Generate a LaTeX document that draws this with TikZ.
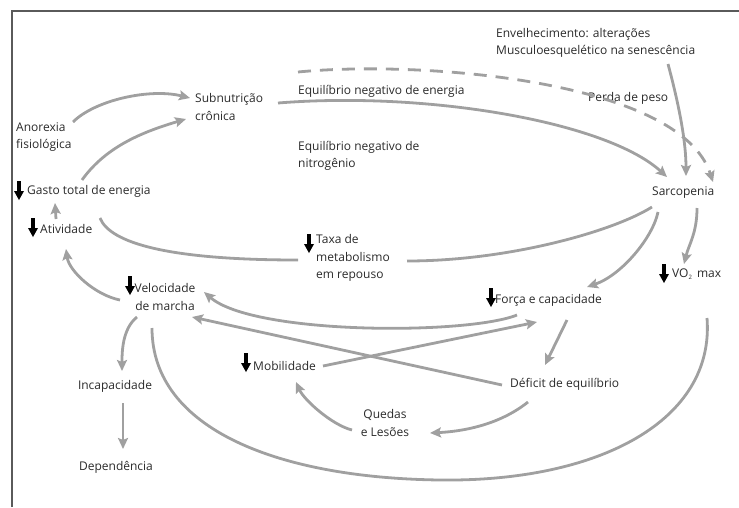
\documentclass[tikz,border=0pt]{standalone}
\usepackage{fontspec}
\setmainfont{Open Sans}
\usetikzlibrary{arrows.meta}
\definecolor{flow}{HTML}{A0A0A0}
\definecolor{ink}{HTML}{2A2A2A}
\definecolor{rule}{HTML}{5A5A5A}
\begin{document}
\begin{tikzpicture}[x=1pt,y=-1pt,
  lbl/.style={inner sep=0pt, text=ink, font=\fontsize{12}{17.5}\selectfont, align=left},
  flowline/.style={draw=flow, line width=2.8pt},
  flowarrow/.style={flowline, -{Stealth[length=11pt,width=10pt,inset=2pt]}},
  lossarrow/.style={flowarrow, dash pattern=on 13pt off 9pt},
  darr/.pic={\fill[black] (-1.9pt,19pt) -- (1.9pt,19pt) -- (1.9pt,9pt) -- (5pt,9pt)
     -- (0pt,0pt) -- (-5pt,9pt) -- (-1.9pt,9pt) -- cycle;}
]
\useasboundingbox (0,0) rectangle (739,507);
% frame
\draw[rule, line width=1.2pt] (12,507) -- (12,11) -- (739,11);

% labels
\node[lbl, anchor=west] (anor) at (16,137) {Anorexia\\fisiológica};
\node[lbl, anchor=west] (subn) at (195,107) {Subnutrição\\crônica};
\node[lbl, anchor=west] (gasto) at (27,191) {Gasto total de energia};
\node[lbl, anchor=west] (ativ) at (40,229) {Atividade};
\node[lbl, anchor=center, align=center] (veloc) at (165,297) {Velocidade\\de marcha};
\node[lbl, anchor=center] (incap) at (115,386) {Incapacidade};
\node[lbl, anchor=center] (depend) at (116,467) {Dependência};
\node[lbl, anchor=west] (mobil) at (253,366) {Mobilidade};
\node[lbl, anchor=center, align=center] (quedas) at (385,423) {Quedas\\e Lesões};
\node[lbl, anchor=west] (deficit) at (510,384) {Déficit de equilíbrio};
\node[lbl, anchor=west] (forca) at (495,300) {Força e capacidade};
\node[lbl, anchor=west] (vo2) at (672,274) {VO\raisebox{-2pt}{\fontsize{6}{6}\selectfont 2}\hspace{5pt}max};
\node[lbl, anchor=west] (sarco) at (652,193) {Sarcopenia};
\node[lbl, anchor=west] (envelh) at (496,43) {Envelhecimento: alterações\\Musculoesquelético na senescência};
\node[lbl, anchor=west] (perda) at (588,98) {Perda de peso};
\node[lbl, anchor=west] (eqen) at (298,91) {Equilíbrio negativo de energia};
\node[lbl, anchor=west] (eqnit) at (298,156) {Equilíbrio negativo de\\nitrogênio};
\node[lbl, anchor=west] (taxa) at (316,258) {Taxa de\\metabolismo\\em repouso};

% decrease markers
\pic at ([shift={(-8,9)}]gasto.west) {darr};
\pic at ([shift={(-7,8)}]ativ.west) {darr};
\pic at ([shift={(-7,-5)}]taxa.west) {darr};
\pic at ([shift={(-35,-2)}]veloc.center) {darr};
\pic at ([shift={(-7,6)}]mobil.west) {darr};
\pic at ([shift={(-4,7)}]forca.west) {darr};
\pic at ([shift={(-8,9)}]vo2.west) {darr};

% connectors
\draw[flowarrow] ([shift={(57,-15)}]anor.west) .. controls +(22,-22) and +(-40,-10) .. ([shift={(-5,-9)}]subn.west);
\draw[flowarrow] ([shift={(55,-11)}]gasto.west) .. controls +(25,-35) and +(-40,12) .. ([shift={(-9,12)}]subn.west);
\draw[flowarrow] ([shift={(16,-10)}]ativ.west) -- ([shift={(28,12)}]gasto.west);
\draw[flowarrow] ([shift={(-45,3)}]veloc.center) .. controls +(-25,-5) and +(3,22) .. ([shift={(26,20)}]ativ.west);
\draw[flowline] ([shift={(73,27)}]gasto.west) .. controls +(10,25) and +(-130,0) .. ([shift={(-18,2)}]taxa.west);
\draw[flowline] ([shift={(91,3)}]taxa.west) .. controls +(100,0) and +(-40,25) .. ([shift={(0,14)}]sarco.west);
\draw[flowarrow] ([shift={(83,-4)}]subn.west) .. controls +(150,-12) and +(-60,-55) .. ([shift={(15,-16)}]sarco.west);
\draw[lossarrow] ([shift={(0,-19)}]eqen.west) .. controls +(122,-12) and +(-33,-102) .. ([shift={(61,-11)}]sarco.west);
\draw[flowarrow] ([shift={(172,21)}]envelh.west) .. controls +(8,30) and +(0,-40) .. ([shift={(34,-17)}]sarco.west);
\draw[flowarrow] ([shift={(6,19)}]sarco.west) .. controls +(-5,25) and +(35,-12) .. ([shift={(92,-13)}]forca.west);
\draw[flowarrow] ([shift={(45,15)}]sarco.west) .. controls +(0,25) and +(5,-20) .. ([shift={(12,-10)}]vo2.west);
\draw[flowarrow] ([shift={(22,15)}]forca.west) .. controls +(-50,20) and +(50,43) .. ([shift={(39,-5)}]veloc.center);
\draw[flowarrow] ([shift={(70,0)}]mobil.west) -- ([shift={(42,22)}]forca.west);
\draw[flowarrow] ([shift={(-8,1)}]deficit.west) -- ([shift={(27,20)}]veloc.center);
\draw[flowarrow] ([shift={(72,20)}]forca.west) -- ([shift={(35,-19)}]deficit.west);
\draw[flowarrow] ([shift={(18,18)}]deficit.west) .. controls +(-25,20) and +(40,-2) .. ([shift={(45,10)}]quedas.center);
\draw[flowarrow] ([shift={(-33,7)}]quedas.center) .. controls +(-20,-5) and +(8,18) .. ([shift={(43,16)}]mobil.west);
\draw[flowarrow] ([shift={(-28,20)}]veloc.center) .. controls +(-15,12) and +(0,-18) .. ([shift={(7,-15)}]incap.center);
\draw[flowarrow] ([shift={(8,17)}]incap.center) -- ([shift={(7,-18)}]depend.center);
\coordinate (loopbase) at (440,480);
\draw[flowline] ([shift={(-13,31)}]veloc.center) .. controls +(0,102) and +(-160,-2) .. (loopbase)
  .. controls +(160,2) and +(8,102) .. ([shift={(35,44)}]vo2.west);
\end{tikzpicture}
\end{document}
